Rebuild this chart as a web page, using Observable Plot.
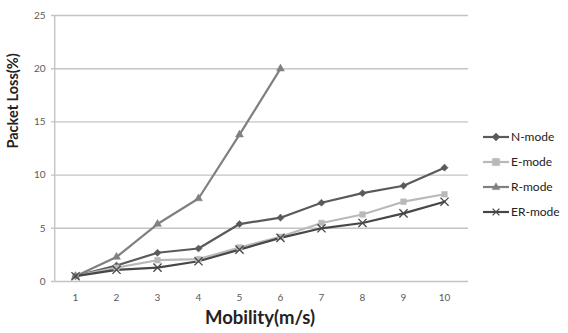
<!DOCTYPE html>
<html>
<head>
<meta charset="utf-8">
<script src="https://cdn.jsdelivr.net/npm/d3@7"></script>
<script src="https://cdn.jsdelivr.net/npm/@observablehq/plot@0.6"></script>
<style>
  html, body { margin: 0; padding: 0; background: #fff; }
  #wrap { position: relative; width: 568px; height: 333px; font-family: Lato, "Open Sans", sans-serif; overflow: hidden; }
  #legend { position: absolute; left: 482px; top: 124px; }
  .item { display: flex; align-items: center; height: 25px; font-size: 12px; color: #222; white-space: nowrap; }
  .item svg { margin-right: 1px; }
</style>
</head>
<body>
<div id="wrap"></div>
<script>
// Mobility speeds (m/s) on the x axis
const mobility = [1, 2, 3, 4, 5, 6, 7, 8, 9, 10];

// Packet loss (%) per mode
const nMode  = [0.5, 1.5, 2.7, 3.1, 5.4, 6.0, 7.4, 8.3, 9.0, 10.7];
const eMode  = [0.5, 1.3, 2.0, 2.1, 3.2, 4.2, 5.5, 6.3, 7.5, 8.2];
const rMode  = [0.5, 2.3, 5.4, 7.8, 13.8, 20.0];
const erMode = [0.5, 1.1, 1.3, 1.9, 3.0, 4.1, 5.0, 5.5, 6.4, 7.5];

const yTicks = [0, 5, 10, 15, 20, 25];

const seriesNames = ["N-mode", "E-mode", "R-mode", "ER-mode"];
const seriesValues = [nMode, eMode, rMode, erMode];
const seriesColor = ["#5a5a5a", "#b9b9b9", "#808080", "#474747"];
const seriesSymbol = ["diamond2", "square2", "triangle2", "times"];
const seriesSize = [3.2, 3.6, 3.8, 3.8];

const rows = seriesNames.flatMap((name, i) =>
  seriesValues[i].map((v, j) => ({ mode: name, speed: mobility[j], loss: v }))
);

const lines = seriesNames.map((name, i) =>
  Plot.line(rows.filter(d => d.mode === name), {
    x: "speed", y: "loss", stroke: seriesColor[i], strokeWidth: 2.2
  })
);
const dots = seriesNames.map((name, i) =>
  Plot.dot(rows.filter(d => d.mode === name), {
    x: "speed", y: "loss", symbol: () => seriesSymbol[i],
    r: seriesSize[i],
    fill: seriesSymbol[i] === "times" ? "none" : seriesColor[i],
    stroke: seriesColor[i],
    strokeWidth: seriesSymbol[i] === "times" ? 1.3 : 0.5
  })
);

const chart = Plot.plot({
  width: 568,
  height: 333,
  marginLeft: 51,
  marginRight: 100,
  marginTop: 15,
  marginBottom: 52,
  style: { fontFamily: "Lato, 'Open Sans', sans-serif", background: "#fff", overflow: "visible" },
  x: { type: "point", domain: mobility, padding: 0.5 },
  y: { domain: [0, 25] },
  symbol: { type: "identity" },
  marks: [
    Plot.gridY(yTicks, { stroke: "#c4c4c4", strokeOpacity: 1, strokeWidth: 1.4 }),
    Plot.ruleX([0], { x: () => mobility[0], dx: -20.8, y1: 0, y2: 25, stroke: "#c4c4c4", strokeWidth: 1.4 }),
    Plot.axisY(yTicks, { tickSize: 0, tickPadding: 6, fontSize: 10, fill: "#595959", label: null }),
    Plot.axisX(mobility, { tickSize: 0, tickPadding: 12, fontSize: 10, fill: "#595959", label: null }),
    ...lines,
    ...dots,
    Plot.text(["Mobility(m/s)"], {
      frameAnchor: "bottom", dy: 42, fontSize: 18.5, fontWeight: "bold", fill: "#222"
    }),
    Plot.text(["Packet Loss(%)"], {
      frameAnchor: "left", dx: -38, rotate: -90, fontSize: 14.5, fontWeight: "bold", fill: "#222"
    })
  ]
});

const wrap = document.getElementById("wrap");
wrap.appendChild(chart);

// Legend: line sample with marker, then the series name
const legend = document.createElement("div");
legend.id = "legend";
const symPaths = {
  "diamond2": "M0,-4L4,0L0,4L-4,0Z",
  "square2": "M-3.6,-3.6H3.6V3.6H-3.6Z",
  "triangle2": "M0,-4.2L3.8,2.6H-3.8Z",
  "times": "M-3.4,-3.4L3.4,3.4M-3.4,3.4L3.4,-3.4"
};
seriesNames.forEach((name, i) => {
  const item = document.createElement("div");
  item.className = "item";
  const isX = seriesSymbol[i] === "times";
  item.innerHTML =
    `<svg width="28" height="12" viewBox="0 0 28 12">
       <line x1="1" x2="27" y1="6" y2="6" stroke="${seriesColor[i]}" stroke-width="2.2"/>
       <path transform="translate(14,6)" d="${symPaths[seriesSymbol[i]]}"
         fill="${isX ? "none" : seriesColor[i]}" stroke="${seriesColor[i]}" stroke-width="${isX ? 1.3 : 0.5}"/>
     </svg><span>${name}</span>`;
  legend.appendChild(item);
});
wrap.appendChild(legend);
</script>
</body>
</html>
